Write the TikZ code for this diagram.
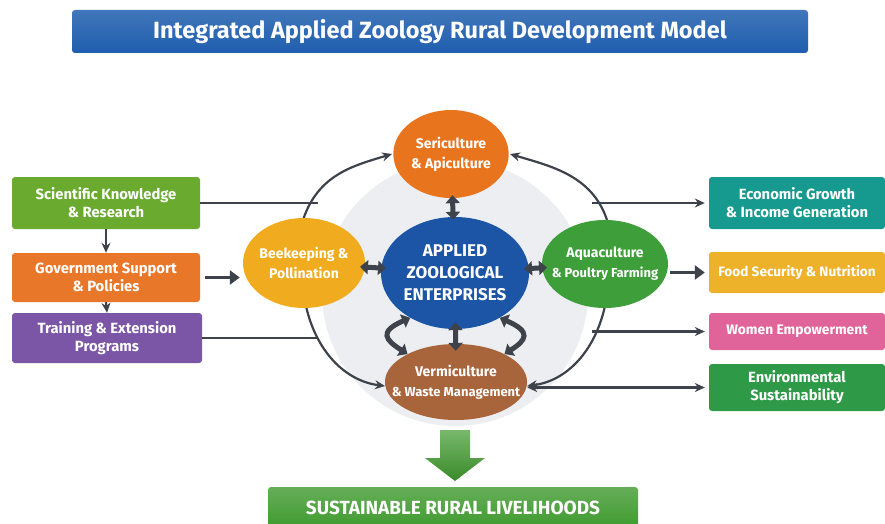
\documentclass[tikz,border=0pt]{standalone}
\usepackage{fontspec}
\setmainfont{Fira Sans}
\usetikzlibrary{arrows.meta,shapes.geometric,positioning}

\definecolor{titleblue}{HTML}{1F5EAE}
\definecolor{linkgray}{HTML}{3E434B}
\definecolor{ringgray}{HTML}{ECEEF2}
\definecolor{sciGreen}{HTML}{6AAA2E}
\definecolor{govOrange}{HTML}{E8772A}
\definecolor{trainPurple}{HTML}{7B55A6}
\definecolor{ecoTeal}{HTML}{16998E}
\definecolor{foodYellow}{HTML}{EDB22A}
\definecolor{womenPink}{HTML}{E0649A}
\definecolor{envGreen}{HTML}{2E9A47}
\definecolor{coreBlue}{HTML}{1C54A6}
\definecolor{seriOrange}{HTML}{E9741E}
\definecolor{beeYellow}{HTML}{F0AC1E}
\definecolor{aquaGreen}{HTML}{3E9E3A}
\definecolor{vermiBrown}{HTML}{A8643A}
\definecolor{goalGreen}{HTML}{3F9A2E}

\begin{document}
\begin{tikzpicture}[x=1pt,y=-1pt,
    >={Stealth[length=10pt,width=9pt]},
    box/.style={rounded corners=3pt,inner sep=0pt,align=center,text=white,
      font=\bfseries\fontsize{14.8}{18}\selectfont},
    blob/.style={ellipse,inner ysep=0pt,align=center,text=white,
      font=\bfseries\fontsize{14}{20}\selectfont},
    link/.style={draw=linkgray,line width=2.2pt},
    spoke/.style={draw=linkgray,line width=5pt,
      {Triangle[length=8pt,width=14pt]}-{Triangle[length=8pt,width=14pt]}},
    bigarrow/.style={draw=linkgray,line width=3.5pt,
      -{Triangle[length=10pt,width=14pt]}}
  ]
    \useasboundingbox (0,0) rectangle (885,524);

    % title banner
    \node[box,top color=titleblue!85!white,bottom color=titleblue,
          minimum width=736pt,minimum height=43pt,
          font=\bfseries\fontsize{23.5}{26}\selectfont] (title) at (440,31.5)
          {Integrated Applied Zoology Rural Development Model};

    % inputs
    \node[box,fill=sciGreen,minimum width=188pt,minimum height=52pt] (sci) at (106,203)
          {Scientific Knowledge\\\& Research};
    \node[box,fill=govOrange,minimum width=188pt,minimum height=49pt] (gov) at (106,277.5)
          {Government Support\\\& Policies};
    \node[box,fill=trainPurple,minimum width=190pt,minimum height=50pt] (train) at (107,338)
          {Training \& Extension\\Programs};

    % outcomes
    \node[box,fill=ecoTeal,minimum width=176pt,minimum height=52pt] (eco) at (797,203)
          {Economic Growth\\\& Income Generation};
    \node[box,fill=foodYellow,minimum width=176pt,minimum height=41pt,
          font=\bfseries\fontsize{13.6}{16}\selectfont] (food) at (797,272.5)
          {Food Security \& Nutrition};
    \node[box,fill=womenPink,minimum width=176pt,minimum height=37pt,
          font=\bfseries\fontsize{13.8}{16}\selectfont] (women) at (797,331.5)
          {Women Empowerment};
    \node[box,fill=envGreen,minimum width=176pt,minimum height=47pt] (env) at (797,387.5)
          {Environmental\\Sustainability};

    % grey disc behind the enterprises
    \fill[ringgray] (455,293) circle (133);

    % outer ring
    \draw[link,->] (303,220) .. controls +(15,-45) and +(-40,12) .. (392,154);
    \draw[link,->] (607,220) .. controls +(-15,-45) and +(40,12) .. (510,154);
    \draw[link,->] (306,306) .. controls +(10,45) and +(-40,-5) .. (385,386);
    \draw[link,->] (605,306) .. controls +(-10,45) and +(40,-5) .. (527,386);

    % enterprises
    \node[blob,fill=coreBlue,inner xsep=1pt,minimum width=144pt,minimum height=112pt,
          font=\bfseries\fontsize{17}{22}\selectfont] (core) at (455,273)
          {APPLIED\\ZOOLOGICAL\\ENTERPRISES};
    \node[blob,fill=seriOrange,inner xsep=1pt,minimum width=114pt,minimum height=88pt] (seri) at (451,154)
          {Sericulture\\\& Apiculture};
    \node[blob,fill=beeYellow,inner xsep=-2pt,minimum width=122pt,minimum height=90pt] (bee) at (304,263)
          {Beekeeping \&\\Pollination};
    \node[blob,fill=aquaGreen,inner xsep=-9pt,minimum width=126pt,minimum height=88pt] (aqua) at (605,264)
          {Aquaculture\\{\fontsize{13}{16}\selectfont\& Poultry Farming}};
    \node[blob,fill=vermiBrown,inner xsep=-14pt,minimum width=140pt,minimum height=76pt] (vermi) at (456,382)
          {Vermiculture\\{\fontsize{13}{16}\selectfont\& Waste Management}};

    % links into and out of the ring
    \coordinate (ringL) at (318,0);
    \coordinate (ringR) at (592,0);
    \draw[link] (sci.east) -- (sci.east -| ringL);
    \draw[link] (train.east) -- (train.east -| ringL);
    \draw[link,->] (sci.south) -- (gov.north);
    \draw[link,->] (gov.south) -- (train.north);
    \draw[bigarrow,shorten <=5pt,shorten >=3pt] (gov.east) -- (gov.east -| bee.west);

    \draw[link,->,shorten >=4pt] (eco.west -| ringR) -- (eco.west);
    \draw[link,->,shorten >=4pt] (women.west -| ringR) -- (women.west);
    \draw[bigarrow,shorten <=2pt,shorten >=4pt] (aqua.east |- food.west) -- (food.west);
    \draw[link,<->,shorten >=4pt] (env.west -| vermi.east) -- (env.west);

    % spokes
    \draw[spoke,shorten <=-3pt,shorten >=-3pt] (seri) -- (core);
    \draw[spoke,shorten <=-5pt,shorten >=-5pt] (bee) -- (core);
    \draw[spoke,shorten <=-5pt,shorten >=-5pt] (aqua) -- (core);
    \draw[spoke,shorten <=-7pt,shorten >=-7pt] (core) -- (vermi);
    \draw[spoke] (core.225) .. controls +(-32,14) and +(-22,-14) .. (vermi.150);
    \draw[spoke] (core.-45) .. controls +(32,14) and +(22,-14) .. (vermi.30);

    % result
    \node[box,top color=goalGreen!80!white,bottom color=goalGreen,
          minimum width=370pt,minimum height=42pt,
          font=\bfseries\fontsize{19}{22}\selectfont] (goal) at (453,508)
          {SUSTAINABLE RURAL LIVELIHOODS};
    \shade[top color=goalGreen!70!white,bottom color=goalGreen!90!black]
      (440,430) -- (470,430) -- (470,458) -- (485,458) -- (455,481)
      -- (425,458) -- (440,458) -- cycle;
\end{tikzpicture}
\end{document}
